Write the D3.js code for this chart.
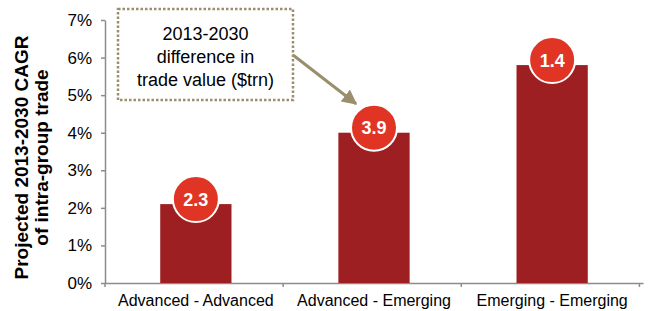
<!DOCTYPE html>
<html>
<head>
<meta charset="utf-8">
<script src="https://cdn.jsdelivr.net/npm/d3@7"></script>
<style>
  body { margin: 0; background: #fff; }
  svg text { font-family: "Liberation Sans", Arial, sans-serif; }
</style>
</head>
<body>
<div id="chart"></div>
<script>
// data
var categories = ["Advanced - Advanced", "Advanced - Emerging", "Emerging - Emerging"];
var cagr = [0.021, 0.040, 0.058];           // projected CAGR (bar height)
var tradeDiff = ["2.3", "3.9", "1.4"];      // 2013-2030 difference in trade value ($trn)
var yTicks = [0, 0.01, 0.02, 0.03, 0.04, 0.05, 0.06, 0.07];
var yTitle = ["Projected 2013-2030 CAGR", "of intra-group trade"];
var noteLines = ["2013-2030", "difference in", "trade value ($trn)"];

var data = categories.map(function(c, i) {
  return {cat: c, value: cagr[i], label: tradeDiff[i]};
});

// set the dimensions and margins of the graph
var margin = {top: 20, right: 8, bottom: 28, left: 105},
    width = 651 - margin.left - margin.right,
    height = 311 - margin.top - margin.bottom;

var svg = d3.select("#chart")
  .append("svg")
    .attr("width", width + margin.left + margin.right)
    .attr("height", height + margin.top + margin.bottom)
  .append("g")
    .attr("transform", "translate(" + margin.left + "," + margin.top + ")");

var axisColor = "#8c8c8c";
var barColor = "#9e1f21";
var dotColor = "#e03524";
var noteColor = "#9a8e6c";

// X scale
var x = d3.scaleBand()
  .range([0, width])
  .domain(categories)
  .paddingInner(0.6)
  .paddingOuter(0.31);

// Y scale
var y = d3.scaleLinear()
  .domain([0, 0.07])
  .range([height, 0]);

// Y axis
var yAxis = svg.append("g")
  .call(d3.axisLeft(y)
    .tickValues(yTicks)
    .tickFormat(d3.format(".0%"))
    .tickSizeInner(4)
    .tickSizeOuter(0)
    .tickPadding(9));
yAxis.select(".domain").attr("stroke", axisColor).attr("stroke-width", 1.5);
yAxis.selectAll(".tick line").attr("stroke", axisColor).attr("stroke-width", 1.5);
yAxis.selectAll(".tick text")
  .style("font-size", "17px")
  .attr("fill", "#000");

// X axis (labels only, ticks sit at the category boundaries)
var xAxis = svg.append("g")
  .attr("transform", "translate(0," + height + ")")
  .call(d3.axisBottom(x).tickSize(0).tickPadding(12));
xAxis.select(".domain").attr("stroke", axisColor).attr("stroke-width", 1.5);
xAxis.selectAll(".tick text")
  .style("font-size", "16px")
  .attr("fill", "#000");

var bounds = d3.range(categories.length + 1).map(function(i) {
  return i * x.step();
});
xAxis.selectAll(".bound")
  .data(bounds)
  .enter()
  .append("line")
    .attr("class", "bound")
    .attr("x1", function(d) { return d; })
    .attr("x2", function(d) { return d; })
    .attr("y1", 0)
    .attr("y2", 4)
    .attr("stroke", axisColor)
    .attr("stroke-width", 1.5);

// Y title
svg.append("text")
  .attr("transform", "translate(" + (28 - margin.left) + "," + (height / 2 + 6) + ")rotate(-90)")
  .attr("text-anchor", "middle")
  .style("font-size", "19px")
  .style("font-weight", "bold")
  .selectAll("tspan")
  .data(yTitle)
  .enter()
  .append("tspan")
    .attr("x", 0)
    .attr("dy", function(d, i) { return i === 0 ? 0 : 20; })
    .text(function(d) { return d; });

// Bars
svg.selectAll(".bar")
  .data(data)
  .enter()
  .append("rect")
    .attr("class", "bar")
    .attr("x", function(d) { return x(d.cat); })
    .attr("y", function(d) { return y(d.value); })
    .attr("width", x.bandwidth())
    .attr("height", function(d) { return height - y(d.value); })
    .attr("fill", barColor);

// Bubbles with trade difference
var bubbles = svg.selectAll(".bubble")
  .data(data)
  .enter()
  .append("g")
    .attr("class", "bubble")
    .attr("transform", function(d) {
      return "translate(" + (x(d.cat) + x.bandwidth() / 2) + "," + (y(d.value) - 5) + ")";
    });
bubbles.append("circle")
  .attr("r", 23)
  .attr("fill", dotColor)
  .attr("stroke", "#fff")
  .attr("stroke-width", 2);
bubbles.append("text")
  .attr("text-anchor", "middle")
  .attr("dy", "0.36em")
  .style("font-size", "18px")
  .style("font-weight", "bold")
  .attr("fill", "#fff")
  .text(function(d) { return d.label; });

// Annotation box + arrow
var box = {x: 118 - margin.left, y: 9 - margin.top, w: 175, h: 91};
svg.append("rect")
  .attr("x", box.x)
  .attr("y", box.y)
  .attr("width", box.w)
  .attr("height", box.h)
  .attr("fill", "#fff")
  .attr("stroke", noteColor)
  .attr("stroke-width", 2.5)
  .attr("stroke-dasharray", "2.5,2");

svg.append("text")
  .attr("text-anchor", "middle")
  .style("font-size", "18px")
  .attr("fill", "#000")
  .selectAll("tspan")
  .data(noteLines)
  .enter()
  .append("tspan")
    .attr("x", box.x + box.w / 2)
    .attr("y", function(d, i) { return 40 - margin.top + i * 23; })
    .text(function(d) { return d; });

svg.append("defs").append("marker")
  .attr("id", "arrow")
  .attr("viewBox", "0 0 10 10")
  .attr("refX", 9)
  .attr("refY", 5)
  .attr("markerWidth", 5)
  .attr("markerHeight", 5)
  .attr("orient", "auto")
  .append("path")
    .attr("d", "M0,0L10,5L0,10z")
    .attr("fill", noteColor);

var target = data[1];
svg.append("line")
  .attr("x1", box.x + box.w)
  .attr("y1", 55 - margin.top)
  .attr("x2", x(target.cat) + x.bandwidth() / 2 - 18)
  .attr("y2", y(target.value) - 5 - 24)
  .attr("stroke", noteColor)
  .attr("stroke-width", 3)
  .attr("marker-end", "url(#arrow)");
</script>
</body>
</html>
